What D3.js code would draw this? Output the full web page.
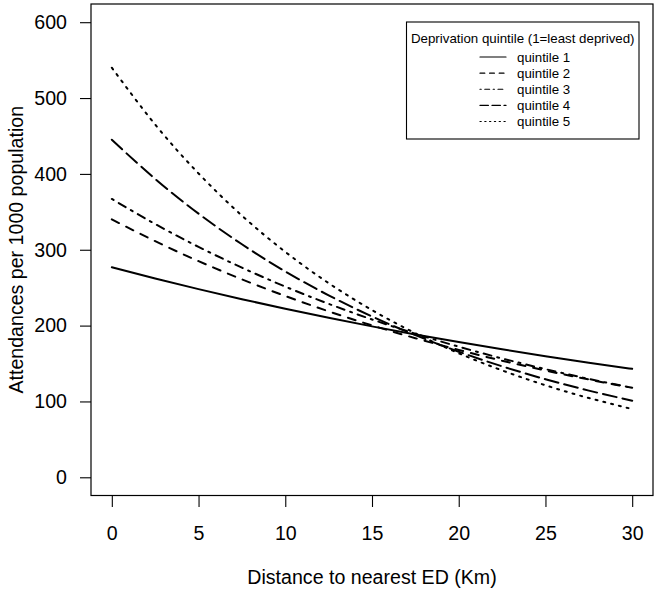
<!DOCTYPE html>
<html>
<head>
<meta charset="utf-8">
<script src="https://cdn.jsdelivr.net/npm/d3@7"></script>
<style>
  html, body { margin: 0; padding: 0; background: #fff; }
  svg { display: block; }
  text { font-family: "Liberation Sans", Arial, sans-serif; fill: #000; }
</style>
</head>
<body>
<svg id="chart" width="658" height="596"></svg>
<script>
// ---- data ----
const distance = [0, 2.5, 5, 7.5, 10, 12.5, 15, 17.5, 20, 22.5, 25, 27.5, 30];
const quintile1 = [277, 262.2, 248.1, 234.8, 222.2, 210.3, 199.0, 188.4, 178.3, 168.7, 159.7, 151.1, 143.0];
const quintile2 = [340, 311.3, 285.0, 261.0, 239.0, 218.8, 200.3, 183.4, 167.9, 153.7, 140.8, 128.9, 118.0];
const quintile3 = [367, 333.9, 303.8, 276.4, 251.4, 228.7, 208.1, 189.3, 172.2, 156.7, 142.6, 129.7, 118.0];
const quintile4 = [445, 393.3, 347.6, 307.2, 271.4, 239.9, 212.0, 187.4, 165.6, 146.3, 129.3, 114.3, 101.0];
const quintile5 = [540, 465.1, 400.6, 345.0, 297.2, 256.0, 220.5, 189.9, 163.5, 140.9, 121.3, 104.5, 90.0];
const seriesNames = ["quintile 1", "quintile 2", "quintile 3", "quintile 4", "quintile 5"];
const xTicks = [0, 5, 10, 15, 20, 25, 30];
const yTicks = [0, 100, 200, 300, 400, 500, 600];
const legendTitle = "Deprivation quintile (1=least deprived)";
const xLabel = "Distance to nearest ED (Km)";
const yLabel = "Attendances per 1000 population";

// R line types (on/off units, scaled by line width)
const ltys = [[], [4, 4], [1, 3, 4, 3], [7, 3], [1, 3]];

const series = [quintile1, quintile2, quintile3, quintile4, quintile5];

const svg = d3.select("#chart");
const L = 91, R = 653, T = 4, B = 495.5;

const x = d3.scaleLinear().domain([-1.2, 31.2]).range([L, R]);
const y = d3.scaleLinear().domain([-24, 624]).range([B, T]);

const axisFont = 19.6;

// y axis
const gy = svg.append("g").attr("transform", `translate(${L},0)`)
  .call(d3.axisLeft(y).tickValues(yTicks).tickSize(11).tickPadding(13).tickFormat(d3.format("d")));
gy.select(".domain").remove();
gy.selectAll(".tick line").attr("stroke", "#000").attr("stroke-width", 1.1);
gy.selectAll(".tick text").attr("font-size", axisFont).attr("font-family", "Liberation Sans, Arial, sans-serif").attr("fill", "#000");

// x axis
const gx = svg.append("g").attr("transform", `translate(0,${B})`)
  .call(d3.axisBottom(x).tickValues(xTicks).tickSize(11.5).tickPadding(19.5).tickFormat(d3.format("d")));
gx.select(".domain").remove();
gx.selectAll(".tick line").attr("stroke", "#000").attr("stroke-width", 1.1);
gx.selectAll(".tick text").attr("font-size", axisFont).attr("font-family", "Liberation Sans, Arial, sans-serif").attr("fill", "#000");

// plot box
svg.append("rect").attr("x", L).attr("y", T).attr("width", R - L).attr("height", B - T)
  .attr("fill", "none").attr("stroke", "#000").attr("stroke-width", 1.2);

// lines
const line = d3.line().x((d, i) => x(distance[i])).y(d => y(d)).curve(d3.curveNatural);
const plotLwd = 2;
series.forEach((s, k) => {
  svg.append("path").datum(s)
    .attr("d", line)
    .attr("fill", "none")
    .attr("stroke", "#000")
    .attr("stroke-width", plotLwd)
    .attr("stroke-linecap", "round")
    .attr("stroke-dasharray", ltys[k].length ? ltys[k].map(v => v * plotLwd).join(",") : null);
});

// axis titles
svg.append("text").attr("x", (L + R) / 2).attr("y", 583.5).attr("text-anchor", "middle")
  .attr("font-size", axisFont).text(xLabel);
svg.append("text").attr("transform", `translate(23,${(T + B) / 2}) rotate(-90)`).attr("text-anchor", "middle")
  .attr("font-size", axisFont).text(yLabel);

// legend
const lg = svg.append("g");
const legFont = 13.3;
const lx0 = 406.5, lx1 = 639, ly0 = 22, ly1 = 139;
lg.append("rect").attr("x", lx0).attr("y", ly0).attr("width", lx1 - lx0).attr("height", ly1 - ly0)
  .attr("fill", "#fff").attr("stroke", "#000").attr("stroke-width", 1.1);
lg.append("text").attr("x", (lx0 + lx1) / 2).attr("y", 42.5).attr("text-anchor", "middle")
  .attr("font-size", legFont).text(legendTitle);
const rowY = d3.scaleLinear().domain([0, 4]).range([57, 121.5]);
seriesNames.forEach((name, k) => {
  const yy = rowY(k);
  lg.append("line").attr("x1", 480).attr("x2", 506).attr("y1", yy).attr("y2", yy)
    .attr("stroke", "#000").attr("stroke-width", 1.2).attr("stroke-linecap", "round")
    .attr("stroke-dasharray", ltys[k].length ? ltys[k].map(v => v * 1.2).join(",") : null);
  lg.append("text").attr("x", 517).attr("y", yy).attr("dy", "0.36em")
    .attr("font-size", legFont).text(name);
});
</script>
</body>
</html>
